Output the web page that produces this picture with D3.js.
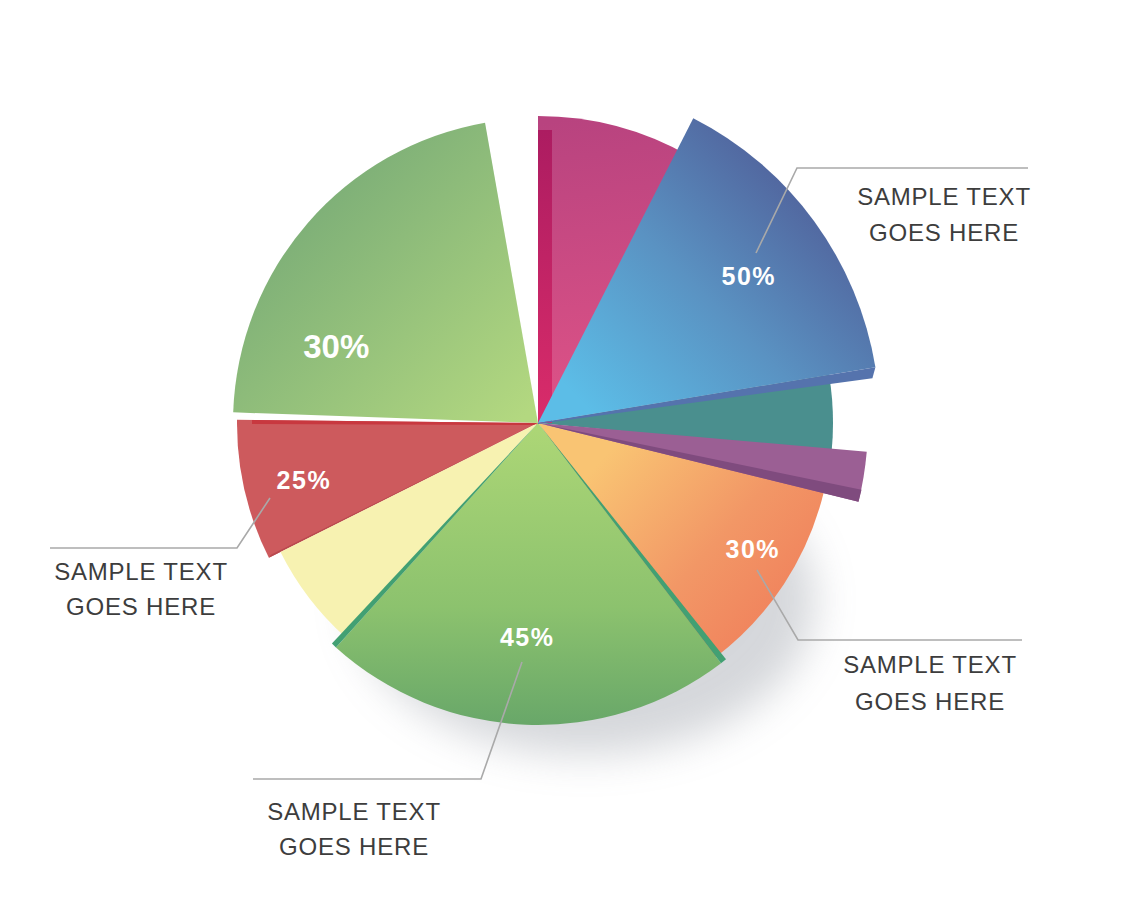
<!DOCTYPE html>
<html><head><meta charset="utf-8">
<script src="https://cdn.jsdelivr.net/npm/d3@7"></script>
<style>html,body{margin:0;padding:0;background:#fff;} svg{display:block;}</style>
</head><body>
<svg id="chart" width="1140" height="924"></svg>
<script>
// ---- data ----
const categories   = ["Pink","Blue","Teal","Purple","Orange","Green","Yellow","Red","Light green"];
const startDeg     = [0, 27, 80.6, 95, 103.5, 142.7, 222, 243.4, 272];
const endDeg       = [30, 80.6, 95.5, 103.8, 143, 222, 243.4, 270.6, 350];
const radiusValues = [307, 342, 295, 330, 294, 302, 288, 301, 305];
const percentLabels = ["", "50%", "", "", "30%", "45%", "", "25%", "30%"];
const calloutLines = ["SAMPLE TEXT", "GOES HERE"];

// ---- layout / style (not data) ----
const W = 1140, H = 924, cx = 538, cy = 423;
const drawOrder = [8, 7, 6, 4, 5, 2, 3, 0, 1];
const labelAngle = [null, 55.1, null, null, 120.4, 182.9, null, 256.3, 290.9];
const labelDist  = [null, 257, null, null, 249, 214, null, 241, 216];
const labelStyle = [null, "sq", null, null, "sq", "sq", null, "sq", "round"];
const callouts = [
  {pts: [[756,253],[797,168],[1028,168]], tx: 944, ty: [205, 241]},
  {pts: [[757,570],[798,640],[1022,640]], tx: 930, ty: [673, 710]},
  {pts: [[522,662],[481,779],[253,779]], tx: 354, ty: [820, 855]},
  {pts: [[270,498],[237,548],[50,548]],   tx: 141, ty: [580, 615]}
];

const svg = d3.select("#chart");
const defs = svg.append("defs");

const ang = d3.scaleLinear().domain([0, 360]).range([0, 2 * Math.PI]);
const rad = d3.scaleLinear().domain([0, 342]).range([0, 342]);
const polar = (deg, r) => [cx + rad(r) * Math.sin(ang(deg)), cy - rad(r) * Math.cos(ang(deg))];

// gradients (coordinates given in page space)
function lin(id, x1, y1, x2, y2, stops, local) {
  const g = defs.append("linearGradient").attr("id", id).attr("gradientUnits", "userSpaceOnUse")
    .attr("x1", x1).attr("y1", y1).attr("x2", x2).attr("y2", y2);
  if (local) g.attr("gradientTransform", `translate(${-cx},${-cy})`);
  stops.forEach(s => g.append("stop").attr("offset", s[0]).attr("stop-color", s[1]));
  return `url(#${id})`;
}
const fills = [
  lin("gPink", 560, 120, 600, 420, [[0, "#b8437f"], [1, "#df5387"]], true),
  lin("gBlue", 600, 420, 830, 190, [[0, "#5cbde7"], [0.5, "#5a92c2"], [1, "#505f99"]], true),
  "#4a8f8e",
  "#9b5f94",
  lin("gOrange", 610, 450, 800, 620, [[0, "#f9c473"], [0.55, "#f29766"], [1, "#f07f5b"]], true),
  lin("gGreen", 0, 430, 0, 726, [[0, "#acd676"], [0.6, "#8cc26e"], [1, "#68a769"]], true),
  "#f7f2b1",
  "#cd5a5d",
  lin("gLGreen", 270, 170, 520, 420, [[0, "#74a876"], [1, "#b3d880"]], true)
];
const stripPink = lin("gStripPink", 0, 130, 0, 420, [[0, "#ac1c61"], [1, "#d92c6a"]], false);

// shadow
const f = defs.append("filter").attr("id", "blur").attr("x", "-50%").attr("y", "-50%").attr("width", "200%").attr("height", "200%");
f.append("feGaussianBlur").attr("stdDeviation", 20);
svg.append("ellipse").attr("cx", 585).attr("cy", 600).attr("rx", 230).attr("ry", 155)
  .attr("fill", "#8c929c").attr("opacity", 0.36).attr("filter", "url(#blur)");

const arc = d3.arc().innerRadius(0);
const g = svg.append("g");

function sidePoly(points, fill) {
  g.append("path").attr("d", d3.line()(points) + "Z").attr("fill", fill);
}

drawOrder.forEach(i => {
  const r = radiusValues[i];
  g.append("path")
    .attr("transform", `translate(${cx},${cy})`)
    .attr("d", arc({startAngle: ang(startDeg[i]), endAngle: ang(endDeg[i]), outerRadius: rad(r)}))
    .attr("fill", fills[i]);

  if (categories[i] === "Pink") {
    const top = polar(startDeg[i], r - 14);
    sidePoly([[cx, cy], top, [top[0] + 14, top[1]], [cx + 14, cy]], stripPink);
  }
  if (categories[i] === "Red") {
    const p = polar(endDeg[i], r - 15);
    sidePoly([[cx, cy], p, [p[0], p[1] + 4], [cx, cy + 2]], "#c8383f");
    const q = polar(startDeg[i], r);
    sidePoly([[cx, cy], q, [q[0] + 2, q[1] - 3]], "#b9494f");
  }
  if (categories[i] === "Green") {
    const a = polar(startDeg[i], r);
    sidePoly([[cx, cy], a, [a[0] + 5, a[1] - 4]], "#42a073");
    const b = polar(endDeg[i], r);
    sidePoly([[cx, cy], b, [b[0] - 4, b[1] - 4]], "#42a073");
  }
  if (categories[i] === "Purple") {
    const p = polar(endDeg[i], r);
    sidePoly([[cx, cy], p, [p[0] + 3, p[1] - 12]], "#7f4b7e");
  }
  if (categories[i] === "Blue") {
    const p = polar(endDeg[i], r);
    sidePoly([[cx, cy], p, [p[0] - 3, p[1] + 11], [cx, cy + 1]], "#5573ad");
  }
});

// percent labels
percentLabels.forEach((t, i) => {
  if (!t) return;
  const p = polar(labelAngle[i], labelDist[i]);
  const round = labelStyle[i] === "round";
  svg.append("text").attr("x", p[0]).attr("y", p[1]).attr("dy", "0.36em")
    .attr("text-anchor", "middle").attr("fill", "#ffffff")
    .attr("font-family", "'Liberation Sans', Arial, sans-serif")
    .attr("font-weight", "bold")
    .attr("font-size", round ? 33 : 25)
    .attr("letter-spacing", round ? 0 : 1.5)
    .text(t);
});

// callouts
callouts.forEach(c => {
  svg.append("path").attr("d", d3.line()(c.pts)).attr("fill", "none")
    .attr("stroke", "#a9a9a9").attr("stroke-width", 1.6);
  calloutLines.forEach((t, k) => {
    svg.append("text").attr("x", c.tx).attr("y", c.ty[k]).attr("text-anchor", "middle")
      .attr("font-family", "'Liberation Sans', Arial, sans-serif").attr("font-size", 24)
      .attr("letter-spacing", 0.8).attr("fill", "#3d3d3d").text(t);
  });
});
</script>
</body></html>
